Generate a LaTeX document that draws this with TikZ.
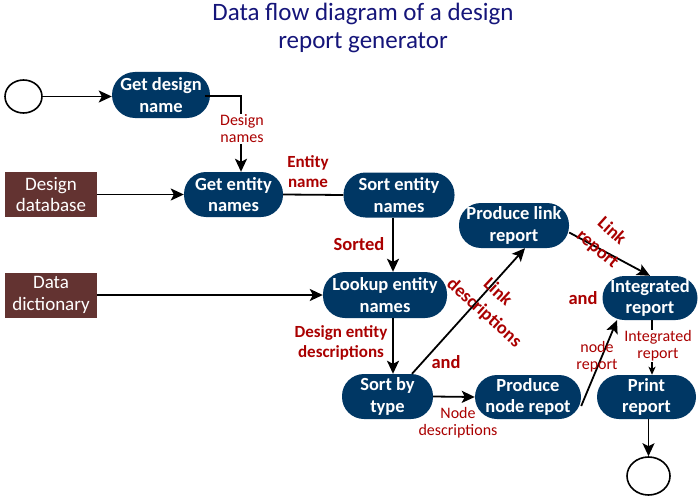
\documentclass[tikz,border=0pt]{standalone}
\usepackage{fontspec}
\setmainfont{Carlito}
\usetikzlibrary{arrows.meta,calc,shapes.geometric}
\definecolor{procblue}{HTML}{003764}
\definecolor{storebrown}{HTML}{633331}
\definecolor{labred}{HTML}{AA0000}
\definecolor{titleblue}{HTML}{15157A}
\begin{document}
\begin{tikzpicture}[x=1pt,y=-1pt,
  proc/.style={rectangle,rounded corners=22pt,fill=procblue,text=white,
    font=\fontsize{18.5}{21.5}\selectfont\bfseries,align=center,inner sep=0pt},
  store/.style={rectangle,fill=storebrown,text=white,minimum width=92pt,minimum height=45pt,
    font=\fontsize{19}{21.5}\selectfont,align=center,inner sep=0pt},
  term/.style={ellipse,draw=black,line width=1.6pt,fill=white,inner sep=0pt},
  arr/.style={line width=1.8pt,-{Stealth[length=13pt,width=12pt,inset=3pt]}},
  conn/.style={line width=1.8pt},
  biglab/.style={text=labred,font=\fontsize{18.5}{20}\selectfont\bfseries,align=center,inner sep=0pt},
  midlab/.style={text=labred,font=\fontsize{17}{20}\selectfont\bfseries,align=center,inner sep=1pt},
  smalllab/.style={text=labred,font=\fontsize{16}{17}\selectfont,align=center,inner sep=1pt},
]
\useasboundingbox (0,0) rectangle (700,500);
\fill[white] (0,0) rectangle (700,500);

\node[text=titleblue,font=\fontsize{25}{28}\selectfont,align=center] (title) at (363,28)
  {Data flow diagram of a design\\report generator};

% terminals
\node[term,minimum width=37pt,minimum height=33pt] (start) at (23.5,96.5) {};
\node[term,minimum width=43pt,minimum height=38pt] (end) at (648.5,476) {};

% stores
\node[store] (db) at (51,194.5) {Design\\database};
\node[store] (dict) at (51,295) {Data\\dictionary};

% processes
\node[proc,minimum width=98pt,minimum height=46pt,rounded corners=23pt] (gdn) at (161,95) {Get design\\name};
\node[proc,minimum width=99pt,minimum height=45pt] (gen) at (233.5,194.5) {Get entity\\names};
\node[proc,minimum width=111pt,minimum height=45pt] (sen) at (399,195) {Sort entity\\names};
\node[proc,minimum width=124pt,minimum height=46pt] (len) at (385,295) {Lookup entity\\names};
\node[proc,minimum width=91pt,minimum height=45pt] (sbt) at (387.5,396.5) {Sort by\\type};
\node[proc,minimum width=106pt,minimum height=44pt] (pnr) at (528,397) {Produce\\node repot};
\node[proc,minimum width=110pt,minimum height=45pt] (plr) at (514,225.5) {Produce link\\report};
\node[proc,minimum width=95pt,minimum height=44pt] (ir) at (650,298) {Integrated\\report};
\node[proc,minimum width=99pt,minimum height=44pt] (pr) at (646.5,397) {Print\\report};

% connectors
\draw[arr] (start.east) -- (start.east -| gdn.west);
\draw[arr] ([xshift=-5pt,yshift=-1pt]gdn.east) -| ([xshift=7.5pt]gen.north);
\node[smalllab,fill=white] (l1) at (242,129) {Design\\names};
\draw[arr] (db.east) -- (gen.west);
\draw[conn] (gen.east) -- (sen.west);
\node[midlab] (l2) at (308,172) {Entity\\name};
\draw[arr] ([xshift=-6pt]sen.south) -- ([xshift=8pt]len.north);
\node[biglab] (l3) at (359,244) {Sorted};
\draw[arr] (dict.east) -- (len.west);
\draw[arr] ([xshift=8pt]len.south) -- ([xshift=5.5pt]sbt.north);
\node[midlab] (l4) at (341,343) {Design entity\\descriptions};
\draw[arr] (sbt.east) -- (pnr.west);
\node[smalllab] (l5) at (458,423) {Node\\descriptions};
\draw[arr] ([xshift=24.5pt]sbt.north) -- ([xshift=11pt]plr.south);
\node[biglab,rotate=-43] (l6a) at (498.5,291.5) {Link};
\node[biglab,rotate=-42] (l6b) at (484,313) {descriptions};
\node[biglab] (l7) at (446,362) {and};
\draw[arr] ([yshift=-7pt]plr.east) -- (ir.north);
\node[biglab,rotate=-42] (l8a) at (612.5,230.5) {Link};
\node[biglab,rotate=-40] (l8b) at (597,250) {report};
\node[biglab] (l9) at (583,298) {and};
\draw[arr] ([yshift=-9pt]pnr.east) -- ([xshift=-33pt]ir.south);
\node[smalllab] (l10) at (597,357) {node\\report};
\draw[line width=1.4pt,-{Stealth[length=8pt,width=7pt,inset=2pt]}] ([xshift=2pt]ir.south) -- ([xshift=5.5pt]pr.north);
\node[smalllab,fill=white] (l11) at (658,346) {Integrated\\report};
\draw[arr] (pr.south -| end.north) -- (end.north);
\end{tikzpicture}
\end{document}
